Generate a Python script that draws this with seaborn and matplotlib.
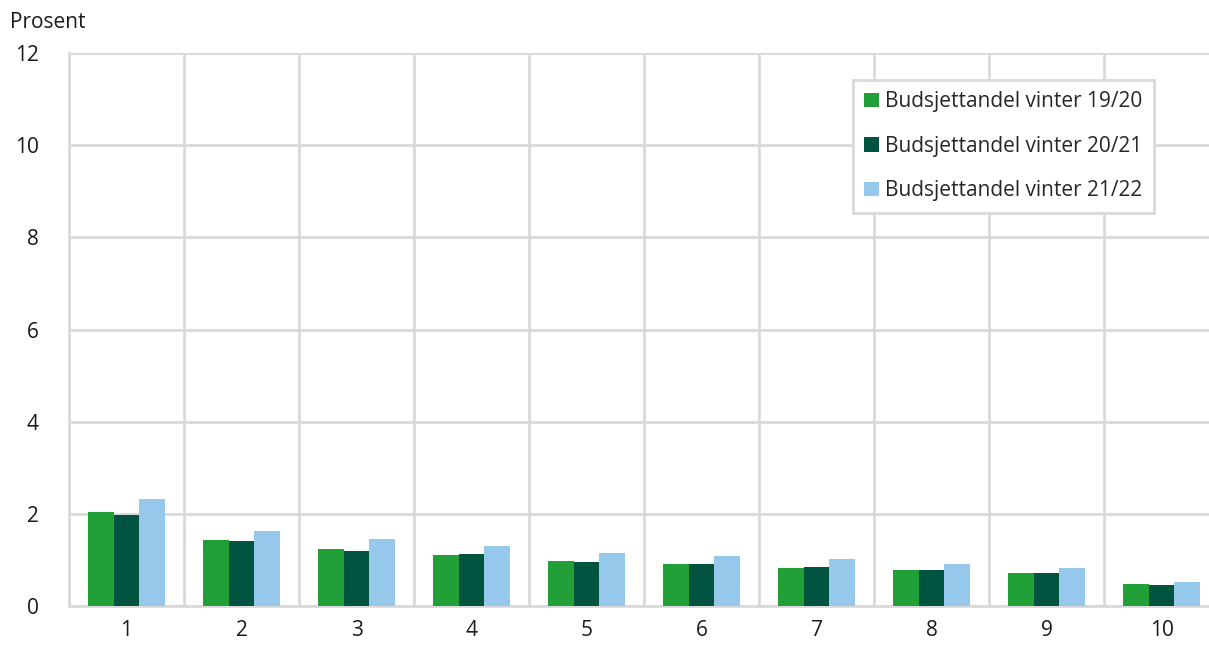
import numpy as np
import pandas as pd
import matplotlib
matplotlib.use("Agg")
import matplotlib.pyplot as plt
import seaborn as sns

# Data
kategorier = [str(i) for i in range(1, 11)]
vinter_19_20 = [2.04, 1.43, 1.23, 1.10, 0.97, 0.92, 0.83, 0.78, 0.72, 0.47]
vinter_20_21 = [1.97, 1.40, 1.20, 1.13, 0.95, 0.92, 0.85, 0.78, 0.71, 0.45]
vinter_21_22 = [2.32, 1.63, 1.45, 1.30, 1.14, 1.08, 1.01, 0.92, 0.82, 0.52]
serier = ["Budsjettandel vinter 19/20", "Budsjettandel vinter 20/21", "Budsjettandel vinter 21/22"]
farger = ["#21a038", "#00543f", "#96c8ec"]

df = pd.DataFrame({
    "kategori": kategorier * 3,
    "verdi": vinter_19_20 + vinter_20_21 + vinter_21_22,
    "serie": [serier[0]] * 10 + [serier[1]] * 10 + [serier[2]] * 10,
})

sns.set_theme(style="white")
plt.rcParams["font.family"] = ["Open Sans", "DejaVu Sans"]

fig = plt.figure(figsize=(12.09, 6.48), dpi=100)
ax = fig.add_axes([69 / 1209, 42 / 648, 1150 / 1209, 553 / 648])

sns.barplot(data=df, x="kategori", y="verdi", hue="serie", palette=farger,
            width=0.67, gap=0, saturation=1, linewidth=0, ax=ax, zorder=3)

ax.set_ylim(0, 12)
ax.set_xlim(-0.5, 9.5)
ax.set_yticks(range(0, 13, 2))
ax.set_xticks(range(10))
ax.set_xticklabels(kategorier)
ax.set_xticks(np.arange(-0.5, 10, 1), minor=True)
ax.grid(axis="y", which="major", color="#d9d9d9", lw=2, zorder=0)
ax.grid(axis="x", which="minor", color="#d9d9d9", lw=2, zorder=0)
ax.grid(axis="x", which="major", visible=False)
ax.tick_params(axis="both", which="both", length=0, labelsize=15, colors="#1a1a1a")
ax.tick_params(axis="y", pad=22)
ax.tick_params(axis="x", pad=10)
ax.set_xlabel("")
ax.set_ylabel("")
for s in ["top", "right"]:
    ax.spines[s].set_visible(False)
for s in ["left", "bottom"]:
    ax.spines[s].set_color("#d9d9d9")
    ax.spines[s].set_linewidth(2)

fig.text(10 / 1209, 1 - 22 / 648, "Prosent", fontsize=15, color="#1a1a1a", va="center")

leg = ax.legend(loc="upper left", bbox_to_anchor=((853 - 69) / 1150, (606 - 80) / 553),
                borderaxespad=0, frameon=True, fontsize=15, handlelength=0.7,
                handleheight=0.7, handletextpad=0.3, labelspacing=1.12, borderpad=0.55,
                fancybox=False)
leg.get_frame().set_edgecolor("#d9d9d9")
leg.get_frame().set_linewidth(2)
leg.get_frame().set_alpha(1)

fig.savefig("out.png", dpi=100)
